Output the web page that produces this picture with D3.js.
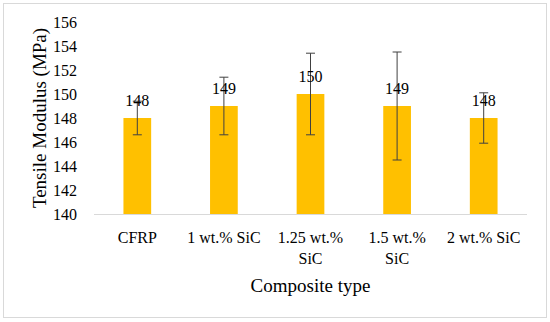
<!DOCTYPE html>
<html lang="en">
<head>
<script src="https://cdnjs.cloudflare.com/ajax/libs/d3/7.8.5/d3.min.js"></script>
<style>
  body { margin: 0; background: #fff; }
  text { font-family: "Liberation Serif", "DejaVu Serif", serif; fill: #000; }
</style>
</head>
<body>
<script>
  var w = 550, h = 322;

  var categories = ["CFRP", "1 wt.% SiC", "1.25 wt.% SiC", "1.5 wt.% SiC", "2 wt.% SiC"];
  var tickLines = [["CFRP"], ["1 wt.% SiC"], ["1.25 wt.%", "SiC"], ["1.5 wt.%", "SiC"], ["2 wt.% SiC"]];
  var values = [148, 149, 150, 149, 148];
  var errors = [1.4, 2.4, 3.4, 4.5, 2.1];
  var yTicks = [140, 142, 144, 146, 148, 150, 152, 154, 156];

  var svg = d3.select("body").append("svg")
    .attr("width", w)
    .attr("height", h);

  // outer frame
  svg.append("rect")
    .attr("x", 3.5).attr("y", 3.5)
    .attr("width", 543).attr("height", 314)
    .attr("fill", "#fff")
    .attr("stroke", "#d9d9d9");

  var x = d3.scaleBand()
    .domain(categories)
    .range([94, 527])
    .paddingInner(0.68)
    .paddingOuter(0.34);

  var y = d3.scaleLinear()
    .domain([140, 156])
    .range([214, 22]);

  // y axis labels
  var yAxis = svg.append("g")
    .attr("transform", "translate(94,0)")
    .call(d3.axisLeft(y).tickValues(yTicks).tickSize(0).tickPadding(17));
  yAxis.select(".domain").remove();
  yAxis.selectAll("text")
    .style("font-family", "Liberation Serif, serif")
    .style("font-size", "16px")
    .attr("fill", "#000");

  // bars
  svg.selectAll("rect.bar")
    .data(values)
    .enter()
    .append("rect")
    .attr("class", "bar")
    .attr("x", (d, i) => x(categories[i]))
    .attr("y", d => y(d))
    .attr("width", x.bandwidth())
    .attr("height", d => y(140) - y(d))
    .attr("fill", "#FFC000");

  // x axis line
  svg.append("line")
    .attr("x1", 94).attr("x2", 527)
    .attr("y1", y(140) + 0.5).attr("y2", y(140) + 0.5)
    .attr("stroke", "#d9d9d9");

  // error bars
  var eb = svg.selectAll("g.err")
    .data(values)
    .enter()
    .append("g")
    .attr("class", "err")
    .attr("stroke", "#404040")
    .attr("stroke-width", 1);
  eb.append("line")
    .attr("x1", (d, i) => x(categories[i]) + x.bandwidth() / 2)
    .attr("x2", (d, i) => x(categories[i]) + x.bandwidth() / 2)
    .attr("y1", (d, i) => y(d + errors[i]))
    .attr("y2", (d, i) => y(d - errors[i]));
  eb.append("line")
    .attr("x1", (d, i) => x(categories[i]) + x.bandwidth() / 2 - 4.5)
    .attr("x2", (d, i) => x(categories[i]) + x.bandwidth() / 2 + 4.5)
    .attr("y1", (d, i) => y(d + errors[i]))
    .attr("y2", (d, i) => y(d + errors[i]));
  eb.append("line")
    .attr("x1", (d, i) => x(categories[i]) + x.bandwidth() / 2 - 4.5)
    .attr("x2", (d, i) => x(categories[i]) + x.bandwidth() / 2 + 4.5)
    .attr("y1", (d, i) => y(d - errors[i]))
    .attr("y2", (d, i) => y(d - errors[i]));

  // value labels
  svg.selectAll("text.val")
    .data(values)
    .enter()
    .append("text")
    .attr("class", "val")
    .attr("x", (d, i) => x(categories[i]) + x.bandwidth() / 2)
    .attr("y", d => y(d) - 12)
    .attr("text-anchor", "middle")
    .style("font-size", "16px")
    .text(d => d);

  // x tick labels
  var xl = svg.selectAll("text.xt")
    .data(tickLines)
    .enter()
    .append("text")
    .attr("class", "xt")
    .attr("x", (d, i) => x(categories[i]) + x.bandwidth() / 2)
    .attr("y", 243)
    .attr("text-anchor", "middle")
    .style("font-size", "16px");
  xl.selectAll("tspan")
    .data(d => d)
    .enter()
    .append("tspan")
    .attr("x", function () { return d3.select(this.parentNode).attr("x"); })
    .attr("dy", (d, j) => j === 0 ? 0 : 21)
    .text(d => d);

  // axis titles
  svg.append("text")
    .attr("x", 310.5).attr("y", 292)
    .attr("text-anchor", "middle")
    .style("font-size", "19px")
    .text("Composite type");

  svg.append("text")
    .attr("transform", "translate(46,118) rotate(-90)")
    .attr("text-anchor", "middle")
    .style("font-size", "19px")
    .text("Tensile Modulus (MPa)");
</script>
</body>
</html>
